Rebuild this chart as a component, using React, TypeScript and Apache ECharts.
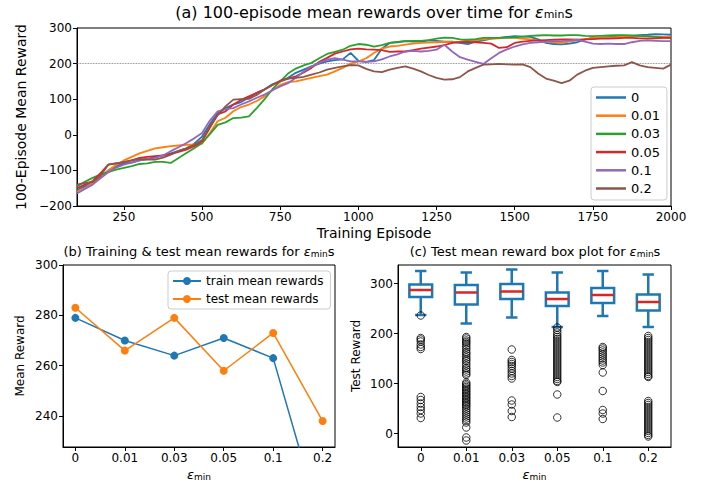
import React, { useEffect, useRef } from 'react';
import * as echarts from 'echarts';

const FONT = "'DejaVu Sans', sans-serif";
const COLORS = ['#1f77b4', '#ff7f0e', '#2ca02c', '#d62728', '#9467bd', '#8c564b'];
const EPS_LABELS = ['0', '0.01', '0.03', '0.05', '0.1', '0.2'];

// ---- (a) 100-episode mean rewards ----
const EPISODES = [
  100, 125, 150, 175, 200, 225, 250, 275, 300, 325, 350, 375, 400, 425, 450, 475,
  500, 525, 550, 575, 600, 625, 650, 675, 700, 725, 750, 775, 800, 825, 850, 875,
  900, 925, 950, 975, 1000, 1025, 1050, 1075, 1100, 1125, 1150, 1175, 1200, 1225, 1250, 1275,
  1300, 1325, 1350, 1375, 1400, 1425, 1450, 1475, 1500, 1525, 1550, 1575, 1600, 1625, 1650, 1675,
  1700, 1725, 1750, 1775, 1800, 1825, 1850, 1875, 1900, 1925, 1950, 1975, 2000,
];
const R_EPS_0 = [
  -155, -145, -135, -120, -100, -88, -80, -78, -72, -68, -62, -58, -52, -45, -38, -25,
  -5, 30, 60, 75, 85, 92, 105, 118, 128, 142, 150, 160, 174, 183, 192, 200,
  206, 210, 212, 230, 208, 205, 210, 242, 258, 260, 263, 262, 262, 265, 264, 262,
  262, 258, 255, 262, 265, 270, 272, 275, 277, 276, 275, 268, 258, 255, 254, 256,
  260, 268, 272, 273, 274, 276, 277, 278, 280, 281, 283, 282, 281,
];
const R_EPS_001 = [
  -160, -150, -135, -118, -100, -85, -72, -62, -52, -45, -38, -35, -32, -30, -28, -28,
  -25, 5, 38, 48, 66, 78, 85, 95, 108, 125, 140, 148, 150, 155, 160, 165,
  169, 178, 188, 200, 206, 215, 230, 242, 248, 250, 253, 256, 258, 259, 260, 261,
  260, 262, 265, 266, 268, 270, 271, 272, 272, 270, 268, 265, 262, 260, 258, 262,
  265, 268, 272, 272, 273, 274, 276, 277, 277, 276, 276, 275, 275,
];
const R_EPS_003 = [
  -145, -132, -121, -112, -105, -98, -93, -88, -82, -80, -76, -76, -79, -65, -51, -38,
  -23, 2, 28, 35, 47, 48, 52, 75, 100, 128, 150, 172, 186, 195, 202, 215,
  227, 233, 239, 250, 255, 253, 248, 252, 258, 261, 263, 264, 264, 266, 270, 273,
  272, 268, 267, 269, 272, 272, 272, 273, 274, 276, 278, 279, 280, 279, 279, 280,
  280, 278, 277, 278, 279, 280, 280, 279, 278, 277, 275, 273, 272,
];
const R_EPS_005 = [
  -150, -140, -130, -108, -84, -80, -77, -72, -65, -62, -60, -58, -54, -48, -42, -32,
  -18, 20, 57, 66, 85, 98, 108, 118, 127, 140, 152, 158, 164, 175, 188, 205,
  216, 228, 234, 240, 242, 240, 239, 238, 233, 234, 234, 238, 242, 245, 248, 252,
  258, 260, 261, 260, 258, 256, 244, 246, 258, 262, 264, 265, 266, 267, 268, 268,
  267, 268, 269, 270, 270, 271, 272, 272, 271, 270, 271, 272, 272,
];
const R_EPS_01 = [
  -165, -152, -140, -122, -105, -92, -84, -78, -72, -68, -65, -58, -46, -35, -23, -10,
  5, 40, 66, 72, 75, 85, 94, 104, 113, 125, 136, 145, 160, 178, 192, 202,
  211, 215, 211, 206, 206, 205, 206, 212, 220, 226, 234, 236, 234, 236, 239, 253,
  234, 218, 211, 205, 199, 215, 230, 240, 248, 254, 258, 260, 262, 263, 263, 265,
  267, 262, 256, 255, 256, 255, 255, 260, 264, 265, 264, 263, 263,
];
const R_EPS_02 = [
  -140, -135, -133, -115, -84, -80, -77, -72, -68, -70, -70, -64, -56, -45, -38, -28,
  -15, 25, 55, 80, 99, 100, 101, 112, 127, 140, 150, 158, 160, 163, 169, 175,
  183, 188, 192, 196, 195, 185, 178, 176, 183, 188, 192, 186, 178, 168, 160, 155,
  156, 162, 178, 188, 197, 198, 199, 198, 197, 198, 190, 172, 158, 152, 145, 152,
  169, 180, 188, 190, 192, 194, 195, 204, 195, 190, 188, 186, 197,
];
const CURVES_A = [R_EPS_0, R_EPS_001, R_EPS_003, R_EPS_005, R_EPS_01, R_EPS_02];
const X_TICKS_A = [250, 500, 750, 1000, 1250, 1500, 1750, 2000];
const REF_LEVEL = 200;

// ---- (b) training & test mean rewards ----
const TRAIN_MEAN = [279, 270, 264, 271, 263, 195];
const TEST_MEAN = [283, 266, 279, 258, 273, 238];
const X_TICKS_B = [0, 1, 2, 3, 4, 5];
const Y_TICKS_B = [240, 260, 280, 300];

// ---- (c) box plot: [lower whisker, Q1, median, Q3, upper whisker] ----
const BOX_STATS = [
  [237, 273, 287, 298, 325],
  [220, 258, 282, 297, 322],
  [232, 269, 284, 299, 328],
  [213, 255, 269, 282, 322],
  [235, 261, 277, 291, 325],
  [213, 246, 263, 278, 318],
];
const OUT_0 = [236, 191, 188, 184, 178, 173, 169, 73, 67, 60, 53, 47, 40, 31];
const OUT_001 = [
  193, 190, 186, 183, 180, 176, 172, 168, 163, 160, 156, 152, 148, 145, 140, 136, 131, 128, 124, 120, 117,
  102, 99, 96, 93, 90, 87, 84, 81, 78, 75, 72, 69, 66, 63, 60, 57, 54, 50, 46, 42, 38, 34, 30, 26, 22, 12, -8, -14,
];
const OUT_003 = [168, 147, 143, 139, 135, 130, 125, 120, 115, 110, 66, 58, 45, 33];
const OUT_005 = [
  212, 207, 202, 197, 193, 189, 185, 181, 177, 173, 169, 165, 161, 157, 153, 149, 145, 141, 137, 133,
  129, 125, 121, 117, 113, 109, 105, 103, 78, 32,
];
const OUT_01 = [173, 170, 166, 162, 158, 154, 150, 146, 142, 137, 122, 85, 47, 40, 29];
const OUT_02 = [
  195, 191, 187, 183, 179, 175, 171, 167, 163, 159, 155, 151, 147, 143, 139, 135, 131, 127, 123, 119, 115, 113,
  65, 61, 57, 53, 49, 45, 41, 37, 33, 29, 25, 21, 17, 13, 9, 5, 1, -3, -6,
];
const OUTLIERS = [OUT_0, OUT_001, OUT_003, OUT_005, OUT_01, OUT_02];
const Y_TICKS_C = [0, 100, 200, 300];

const rich = (size: number) => ({
  e: { fontFamily: FONT, fontStyle: 'italic', fontSize: size, color: '#000' },
  sub: { fontFamily: FONT, fontSize: Math.round(size * 0.7), color: '#000', verticalAlign: 'bottom' },
});

const minus = (v: number) => (v < 0 ? '\u2212' + Math.abs(v) : String(v));

const tickStyle = { show: true, length: 4, lineStyle: { color: '#000', width: 1 } };
const labelBase = { fontFamily: FONT, fontSize: 12, color: '#000', margin: 5 };
const axisLineBase = { show: true, onZero: false, lineStyle: { color: '#000', width: 1 } };
const gridBase = { show: true, borderColor: '#000', borderWidth: 1, backgroundColor: 'transparent', containLabel: false };

export default function App() {
  const ref = useRef<HTMLDivElement>(null);
  useEffect(() => {
    document.body.style.margin = '0';
    if (!ref.current) return;
    const chart = echarts.init(ref.current, undefined, { renderer: 'svg' });

    const seriesA = CURVES_A.map((vals, i) => ({
      type: 'line',
      name: EPS_LABELS[i],
      xAxisIndex: 0,
      yAxisIndex: 0,
      data: EPISODES.map((ep, j) => [ep, vals[j]]),
      symbol: 'none',
      lineStyle: { width: 1.8, color: COLORS[i] },
      itemStyle: { color: COLORS[i] },
      ...(i === 0
        ? {
            markLine: {
              silent: true,
              z: 1,
              symbol: ['none', 'none'],
              label: { show: false },
              lineStyle: { type: 'dotted', color: '#666', width: 0.8 },
              data: [{ yAxis: REF_LEVEL }],
            },
          }
        : {}),
    }));

    const option = {
      animation: false,
      backgroundColor: '#fff',
      title: [
        {
          text: '(a) 100-episode mean rewards over time for {e|ε}{sub|min}s',
          left: 374, top: 4, textAlign: 'center', padding: 0,
          textStyle: { fontFamily: FONT, fontSize: 16, fontWeight: 'normal', color: '#000', rich: rich(16) },
        },
        {
          text: '(b) Training & test mean rewards for {e|ε}{sub|min}s',
          left: 199, top: 245, textAlign: 'center', padding: 0,
          textStyle: { fontFamily: FONT, fontSize: 13, fontWeight: 'normal', color: '#000', rich: rich(13) },
        },
        {
          text: '(c) Test mean reward box plot for {e|ε}{sub|min}s',
          left: 535, top: 245, textAlign: 'center', padding: 0,
          textStyle: { fontFamily: FONT, fontSize: 13, fontWeight: 'normal', color: '#000', rich: rich(13) },
        },
      ],
      legend: [
        {
          data: EPS_LABELS,
          left: 591, top: 87, orient: 'vertical',
          icon: 'rect',
          itemWidth: 30, itemHeight: 2.5, itemGap: 5.2,
          padding: [4, 7, 5, 5],
          borderColor: '#ccc', borderWidth: 1, borderRadius: 3,
          backgroundColor: 'rgba(255,255,255,0.8)',
          textStyle: { fontFamily: FONT, fontSize: 13, color: '#000' },
        },
        {
          data: ['train mean rewards', 'test mean rewards'],
          left: 168, top: 271, orient: 'vertical',
          itemWidth: 28, itemHeight: 10, itemGap: 6,
          padding: [4, 7, 4, 4],
          borderColor: '#ccc', borderWidth: 1, borderRadius: 3,
          backgroundColor: 'rgba(255,255,255,0.8)',
          textStyle: { fontFamily: FONT, fontSize: 12, color: '#000' },
        },
      ],
      grid: [
        { ...gridBase, left: 77, top: 28, width: 594, height: 178 },
        { ...gridBase, left: 63, top: 265, width: 272, height: 182 },
        { ...gridBase, left: 398, top: 265, width: 273, height: 182 },
      ],
      xAxis: [
        {
          type: 'value', gridIndex: 0, min: 100, max: 2000,
          axisLine: axisLineBase,
          axisTick: { ...tickStyle, customValues: X_TICKS_A },
          axisLabel: { ...labelBase, customValues: X_TICKS_A, formatter: (v: number) => String(v) },
          splitLine: { show: false },
          name: 'Training Episode', nameLocation: 'middle', nameGap: 20,
          nameTextStyle: { fontFamily: FONT, fontSize: 14, color: '#000' },
        },
        {
          type: 'value', gridIndex: 1, min: -0.25, max: 5.25,
          axisLine: axisLineBase,
          axisTick: { ...tickStyle, customValues: X_TICKS_B },
          axisLabel: { ...labelBase, customValues: X_TICKS_B, formatter: (v: number) => EPS_LABELS[Math.round(v)] },
          splitLine: { show: false },
          name: '{e|ε}{sub|min}', nameLocation: 'middle', nameGap: 21,
          nameTextStyle: { fontFamily: FONT, fontSize: 13, color: '#000', rich: rich(13) },
        },
        {
          type: 'category', gridIndex: 2, data: EPS_LABELS, boundaryGap: true,
          axisLine: axisLineBase,
          axisTick: { ...tickStyle, alignWithLabel: true },
          axisLabel: { ...labelBase },
          splitLine: { show: false },
          name: '{e|ε}{sub|min}', nameLocation: 'middle', nameGap: 21,
          nameTextStyle: { fontFamily: FONT, fontSize: 13, color: '#000', rich: rich(13) },
        },
      ],
      yAxis: [
        {
          type: 'value', gridIndex: 0, min: -200, max: 300, interval: 100,
          axisLine: axisLineBase,
          axisTick: tickStyle,
          axisLabel: { ...labelBase, formatter: (v: number) => minus(v) },
          splitLine: { show: false },
          name: '100-Episode Mean Reward', nameLocation: 'middle', nameGap: 47,
          nameTextStyle: { fontFamily: FONT, fontSize: 14, color: '#000' },
        },
        {
          type: 'value', gridIndex: 1, min: 227.7, max: 300,
          axisLine: axisLineBase,
          axisTick: { ...tickStyle, customValues: Y_TICKS_B },
          axisLabel: { ...labelBase, customValues: Y_TICKS_B },
          splitLine: { show: false },
          name: 'Mean Reward', nameLocation: 'middle', nameGap: 37,
          nameTextStyle: { fontFamily: FONT, fontSize: 12, color: '#000' },
        },
        {
          type: 'value', gridIndex: 2, min: -27, max: 337,
          axisLine: axisLineBase,
          axisTick: { ...tickStyle, customValues: Y_TICKS_C },
          axisLabel: { ...labelBase, customValues: Y_TICKS_C },
          splitLine: { show: false },
          name: 'Test Reward', nameLocation: 'middle', nameGap: 36,
          nameTextStyle: { fontFamily: FONT, fontSize: 12, color: '#000' },
        },
      ],
      series: [
        ...seriesA,
        {
          type: 'line', name: 'train mean rewards', xAxisIndex: 1, yAxisIndex: 1,
          data: TRAIN_MEAN.map((v, i) => [i, v]),
          symbol: 'circle', symbolSize: 8, clip: true,
          lineStyle: { width: 1.5, color: COLORS[0] },
          itemStyle: { color: COLORS[0] },
        },
        {
          type: 'line', name: 'test mean rewards', xAxisIndex: 1, yAxisIndex: 1,
          data: TEST_MEAN.map((v, i) => [i, v]),
          symbol: 'circle', symbolSize: 8, clip: true,
          lineStyle: { width: 1.5, color: COLORS[1] },
          itemStyle: { color: COLORS[1] },
        },
        {
          type: 'custom', name: 'boxes', xAxisIndex: 2, yAxisIndex: 2,
          data: BOX_STATS.map((s, i) => [i, ...s]),
          encode: { x: 0, y: [1, 2, 3, 4, 5] },
          renderItem: (params: any, api: any) => {
            const idx = api.value(0);
            const lo = api.coord([idx, api.value(1)]);
            const q1 = api.coord([idx, api.value(2)]);
            const med = api.coord([idx, api.value(3)]);
            const q3 = api.coord([idx, api.value(4)]);
            const hi = api.coord([idx, api.value(5)]);
            const band = api.size([1, 0])[0];
            const bw = band * 0.5;
            const cw = band * 0.25;
            const cx = lo[0];
            const blue = { stroke: COLORS[0], lineWidth: 2.5, fill: 'none' };
            return {
              type: 'group',
              children: [
                { type: 'line', shape: { x1: cx, y1: q1[1], x2: cx, y2: lo[1] }, style: blue },
                { type: 'line', shape: { x1: cx, y1: q3[1], x2: cx, y2: hi[1] }, style: blue },
                { type: 'line', shape: { x1: cx - cw / 2, y1: lo[1], x2: cx + cw / 2, y2: lo[1] }, style: blue },
                { type: 'line', shape: { x1: cx - cw / 2, y1: hi[1], x2: cx + cw / 2, y2: hi[1] }, style: blue },
                { type: 'rect', shape: { x: cx - bw / 2, y: q3[1], width: bw, height: q1[1] - q3[1] }, style: blue },
                { type: 'line', shape: { x1: cx - bw / 2, y1: med[1], x2: cx + bw / 2, y2: med[1] }, style: { stroke: COLORS[3], lineWidth: 2.5 } },
              ],
            };
          },
        },
        {
          type: 'scatter', name: 'outliers', xAxisIndex: 2, yAxisIndex: 2,
          data: OUTLIERS.flatMap((vals, i) => vals.map((v) => [i, v])),
          symbol: 'circle', symbolSize: 7.5,
          itemStyle: { color: 'rgba(0,0,0,0)', borderColor: '#000', borderWidth: 1 },
        },
      ],
    };

    chart.setOption(option as any);
    return () => chart.dispose();
  }, []);
  return <div ref={ref} style={{ width: 702, height: 487 }} />;
}
